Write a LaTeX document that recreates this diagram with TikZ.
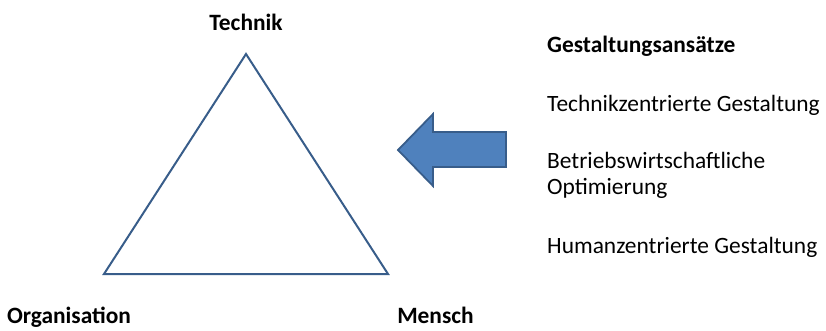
\documentclass[tikz,border=0pt]{standalone}
\usepackage{fontspec}
\setmainfont{Carlito}
\definecolor{rand}{HTML}{385D8A}
\definecolor{pfeil}{HTML}{4F81BD}
\newcommand{\schrift}{\fontsize{23.4}{26}\selectfont}
\tikzset{
    ecke/.style={font=\schrift\bfseries, anchor=base},
    ansatz/.style={font=\schrift, anchor=base west, align=left, inner sep=0pt}
}
\begin{document}
\begin{tikzpicture}[x=1pt, y=-1pt]
        \useasboundingbox (0,0) rectangle (826,330);
        % Dreieck
        \coordinate (T) at (246,54);
        \coordinate (O) at (104,274);
        \coordinate (M) at (388,274);
        \draw[rand, line width=2pt, line join=miter] (T) -- (M) -- (O) -- cycle;
        \node[ecke] (technik) at (246,30) {Technik};
        \node[ecke] (organisation) at (69,323) {Organisation};
        \node[ecke] (mensch) at (435.5,323) {Mensch};
        % Pfeil
        \draw[rand, fill=pfeil, line width=1.8pt] (506,132) -- (433,132) -- (433,114) -- (398,150)
            -- (433,186) -- (433,167) -- (506,167) -- cycle;
        \node[ansatz, font=\schrift\bfseries] (titel) at (547,52) {Gestaltungsansätze};
        \node[ansatz] (technikzentriert) at (547,111) {Technikzentrierte Gestaltung};
        \node[ansatz] (betrieb) at (547,194) {Betriebswirtschaftliche\\Optimierung};
        \node[ansatz] (humanzentriert) at (547,253) {Humanzentrierte Gestaltung};
    \end{tikzpicture}
\end{document}
